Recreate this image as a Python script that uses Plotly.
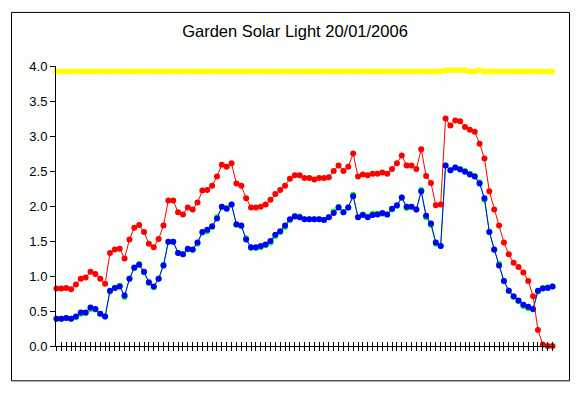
import plotly.graph_objects as go

samples = list(range(103))

red = [0.82,0.82,0.83,0.81,0.88,0.96,0.98,1.06,1.03,0.96,0.89,
       1.33,1.38,1.39,1.25,1.52,1.69,1.73,1.63,1.46,1.41,1.53,
       1.72,2.08,2.08,1.91,1.88,1.98,1.95,2.05,2.22,2.23,2.29,2.42,2.59,2.56,
       2.61,2.32,2.29,2.11,1.98,1.98,1.99,2.02,2.09,2.17,2.23,2.29,
       2.39,2.44,2.44,2.40,2.40,2.38,2.40,2.40,2.41,2.50,2.58,2.50,
       2.56,2.75,2.42,2.45,2.44,2.46,2.46,2.48,2.46,2.53,2.61,
       2.72,2.58,2.58,2.53,2.81,2.43,2.33,2.01,2.02,
       3.25,3.15,3.22,3.21,3.13,3.09,3.06,2.89,2.68,2.21,
       1.95,1.72,1.48,1.31,1.19,1.13,1.05,0.93,0.71,0.23,0.02,0.0,0.0]

blue = [0.39,0.39,0.40,0.39,0.42,0.48,0.48,0.55,0.53,0.46,0.42,
        0.79,0.83,0.85,0.72,0.96,1.12,1.16,1.06,0.91,0.85,0.96,
        1.15,1.49,1.49,1.33,1.31,1.39,1.38,1.48,1.63,1.66,1.71,1.82,1.99,1.96,
        2.02,1.74,1.72,1.52,1.41,1.41,1.43,1.45,1.50,1.59,1.64,1.72,
        1.81,1.85,1.84,1.81,1.81,1.81,1.81,1.80,1.84,1.90,1.98,1.91,
        1.98,2.14,1.84,1.87,1.84,1.87,1.88,1.90,1.88,1.96,2.01,
        2.12,1.99,1.99,1.95,2.21,1.86,1.75,1.48,1.43,
        2.58,2.51,2.55,2.52,2.49,2.45,2.42,2.32,2.11,1.63,
        1.38,1.15,0.93,0.79,0.71,0.65,0.59,0.56,0.53,0.79,0.82,0.83,0.85]

green = [0.39,0.39,0.40,0.39,0.41,0.46,0.47,0.53,0.52,0.46,0.42,
         0.78,0.83,0.86,0.70,0.96,1.11,1.17,1.05,0.90,0.84,0.96,
         1.16,1.49,1.49,1.33,1.31,1.38,1.37,1.46,1.62,1.64,1.70,1.84,1.99,1.97,
         2.02,1.73,1.71,1.54,1.40,1.40,1.41,1.44,1.48,1.57,1.63,1.70,
         1.80,1.86,1.85,1.81,1.81,1.81,1.81,1.80,1.84,1.92,1.99,1.91,
         1.98,2.16,1.84,1.88,1.85,1.89,1.89,1.89,1.88,1.95,2.00,
         2.12,1.97,1.99,1.95,2.23,1.84,1.73,1.46,1.43,
         2.58,2.51,2.55,2.53,2.50,2.46,2.43,2.34,2.09,1.63,
         1.37,1.17,0.93,0.79,0.70,0.64,0.57,0.54,0.52,0.78,0.83,0.84,0.85]

yellow = [3.92,3.92,3.92,3.92,3.92,3.92,3.92,3.92,3.92,3.92,3.92,
          3.92,3.92,3.92,3.92,3.92,3.92,3.92,3.92,3.92,3.92,3.92,
          3.92,3.92,3.92,3.92,3.92,3.92,3.92,3.92,3.92,3.92,3.92,3.92,3.92,3.92,
          3.92,3.92,3.92,3.92,3.92,3.92,3.92,3.92,3.92,3.92,3.92,3.92,
          3.92,3.92,3.92,3.92,3.92,3.92,3.92,3.92,3.92,3.92,3.92,3.92,
          3.92,3.92,3.92,3.92,3.92,3.92,3.92,3.92,3.92,3.92,3.92,
          3.92,3.92,3.92,3.92,3.92,3.92,3.92,3.92,3.92,
          3.94,3.94,3.94,3.94,3.94,3.92,3.92,3.94,3.92,3.92,
          3.92,3.92,3.92,3.92,3.92,3.92,3.92,3.92,3.92,3.92,3.92,3.92,3.92]

y_ticks = [0.0, 0.5, 1.0, 1.5, 2.0, 2.5, 3.0, 3.5, 4.0]

FONT = "Liberation Sans, Arial, sans-serif"

fig = go.Figure()
for vals, col in [(yellow, "#FFFF00"), (green, "#00FF00"), (blue, "#0000FF"), (red, "#FF0000")]:
    fig.add_trace(go.Scatter(
        x=samples, y=vals, mode="lines+markers",
        line=dict(color=col, width=1),
        marker=dict(color=col, size=6, symbol="circle", line=dict(width=0)),
        showlegend=False, hoverinfo="skip", cliponaxis=False,
    ))

# invisible trace to activate inner tick overlay axis
fig.add_trace(go.Scatter(x=[samples[0]], y=[0], xaxis="x2", mode="markers",
                         marker=dict(opacity=0), showlegend=False, hoverinfo="skip"))

# page body has an 8px margin, so the figure is laid out in page pixels minus 8
OFF = 8
W, H = 582 - OFF, 394 - OFF
L = 56 - OFF
T = 66 - OFF
R = W - (554 - OFF)
B = H - (345.7 - OFF)
pw = W - L - R
ph = H - T - B

def px(x):
    return (x - OFF - L) / pw

def py(y):
    return (H - B - (y - OFF)) / ph

fig.update_layout(
    width=W, height=H,
    margin=dict(l=L, r=R, t=T, b=B),
    paper_bgcolor="#FCFEFC", plot_bgcolor="#FCFEFC",
    title=dict(text="Garden Solar Light 20/01/2006", x=0.5, xref="container",
               y=1 - (31 - OFF) / H, yref="container", yanchor="middle", xanchor="center",
               font=dict(family=FONT, size=16.5, color="black")),
    xaxis=dict(range=[-0.1, 102.3], tickmode="linear", tick0=0, dtick=1,
               ticks="outside", ticklen=4, tickwidth=1, tickcolor="black",
               showticklabels=False, showgrid=False, zeroline=False,
               showline=True, linecolor="black", linewidth=1),
    xaxis2=dict(range=[-0.1, 102.3], overlaying="x", anchor="y", side="bottom",
                tickmode="linear", tick0=0, dtick=1,
                ticks="inside", ticklen=4, tickwidth=1, tickcolor="black",
                showticklabels=False, showgrid=False, zeroline=False, showline=False),
    yaxis=dict(range=[0, 4], tickmode="array", tickvals=y_ticks,
               ticktext=[f"{v:.1f}" for v in y_ticks],
               ticks="outside", ticklen=5, tickwidth=1, tickcolor="black",
               showgrid=False, zeroline=False,
               showline=True, linecolor="black", linewidth=1,
               tickfont=dict(family=FONT, size=13, color="black")),
    shapes=[dict(type="rect", xref="paper", yref="paper",
                 x0=px(11.5), x1=px(569.5), y0=py(380.5), y1=py(12.5),
                 line=dict(color="black", width=1), fillcolor="rgba(0,0,0,0)", layer="below")],
)

fig.write_html("out.html")
